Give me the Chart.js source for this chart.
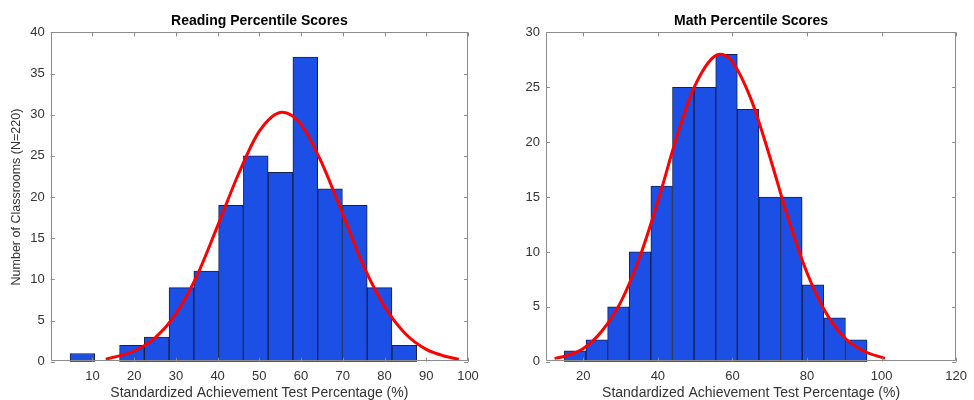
<!DOCTYPE html>
<html>
<head>
<meta charset="utf-8">
<script src="https://cdn.jsdelivr.net/npm/chart.js@4.4.1/dist/chart.umd.min.js"></script>
<style>
  body { margin: 0; background: #fff; }
  .panel { position: absolute; top: 0; width: 487px; height: 400px; }
</style>
</head>
<body>
<div class="panel" style="left:0"><canvas id="readingChart"></canvas></div>
<div class="panel" style="left:487px"><canvas id="mathChart"></canvas></div>
<script>
// Reading histogram (bin centres and counts)
const readingBinCenters = [7.6, 13.53, 19.47, 25.4, 31.33, 37.27, 43.2, 49.14, 55.07, 61.01, 66.94, 72.88, 78.81, 84.74];
const readingCounts = [1, 0, 2, 3, 9, 11, 19, 25, 23, 37, 21, 19, 9, 2];
// red fitted curve
const readingFitX = [13.2, 20, 25, 30, 35, 40, 45, 50, 55.5, 60, 65, 70, 75, 80, 85, 90, 95, 97.8];
const readingFitY = [0.3, 1.3, 2.9, 5.8, 10.4, 16.5, 22.8, 28.0, 30.3, 28.8, 24.1, 17.9, 11.6, 6.7, 3.4, 1.5, 0.6, 0.3];
const readingXTicks = [10, 20, 30, 40, 50, 60, 70, 80, 90, 100];

// Math histogram
const mathBinCenters = [17.82, 23.62, 29.42, 35.22, 41.02, 46.82, 52.61, 58.41, 64.21, 70.01, 75.81, 81.61, 87.41, 93.21];
const mathCounts = [1, 2, 5, 10, 16, 25, 25, 28, 23, 15, 15, 7, 4, 2];
const mathFitX = [12.3, 15, 20, 25, 30, 35, 40, 45, 50, 56.7, 60, 65, 70, 75, 80, 85, 90, 95, 100.9];
const mathFitY = [0.3, 0.5, 1.2, 2.8, 5.4, 9.4, 14.6, 20.4, 25.2, 28.0, 27.3, 23.9, 18.7, 13.0, 8.1, 4.5, 2.2, 1.0, 0.3];
const mathXTicks = [20, 40, 60, 80, 100, 120];

Chart.defaults.font.family = "'Liberation Sans', Arial, sans-serif";

// matlab-like box with inward tick marks
const boxAndTicks = {
  id: 'boxAndTicks',
  afterDatasetsDraw(chart) {
    const { ctx, chartArea: a, scales: { x, y } } = chart;
    const tl = 4;
    ctx.save();
    ctx.strokeStyle = '#8c8c8c';
    ctx.lineWidth = 1;
    ctx.beginPath();
    ctx.rect(Math.round(a.left) + 0.5, Math.round(a.top) + 0.5, Math.round(a.right - a.left) - 1, Math.round(a.bottom - a.top) - 1);
    x.ticks.forEach(t => {
      const px = Math.round(x.getPixelForValue(t.value)) + 0.5;
      ctx.moveTo(px, a.bottom); ctx.lineTo(px, a.bottom - tl);
      ctx.moveTo(px, a.top); ctx.lineTo(px, a.top + tl);
    });
    y.ticks.forEach(t => {
      const py = Math.round(y.getPixelForValue(t.value)) + 0.5;
      ctx.moveTo(a.left, py); ctx.lineTo(a.left + tl, py);
      ctx.moveTo(a.right, py); ctx.lineTo(a.right - tl, py);
    });
    ctx.stroke();
    ctx.restore();
  }
};

function histChart(id, o) {
  new Chart(document.getElementById(id), {
    type: 'bar',
    data: {
      datasets: [
        {
          type: 'line',
          data: o.fitX.map((v, i) => ({ x: v, y: o.fitY[i] })),
          borderColor: '#ff0000',
          borderWidth: 3,
          pointRadius: 0,
          cubicInterpolationMode: 'monotone',
          order: 0
        },
        {
          data: o.centers.map((v, i) => ({ x: v, y: o.counts[i] })),
          backgroundColor: '#1c4fe6',
          borderColor: '#14214f',
          borderWidth: 1,
          borderSkipped: false,
          barPercentage: 1,
          categoryPercentage: 1,
          order: 1
        }
      ]
    },
    options: {
      responsive: true,
      maintainAspectRatio: false,
      animation: false,
      layout: { padding: { left: 0, right: o.padRight, top: 0, bottom: 0 } },
      plugins: {
        legend: { display: false },
        tooltip: { enabled: false },
        title: {
          display: true,
          text: o.title,
          fullSize: false,
          color: '#000',
          font: { size: 14, weight: 'bold', lineHeight: 1.2 },
          padding: { top: 12.6, bottom: 3 }
        }
      },
      scales: {
        x: {
          type: 'linear',
          offset: false,
          min: o.xMin,
          max: o.xMax,
          grid: { display: false, drawTicks: false, offset: false },
          border: { display: false },
          afterBuildTicks: s => { s.ticks = o.xTicks.map(v => ({ value: v })); },
          afterFit: s => { s.height = 38.3; },
          ticks: { color: '#333', font: { size: 13 }, padding: 7, maxRotation: 0 },
          title: {
            display: true,
            text: 'Standardized Achievement Test Percentage (%)',
            color: '#333',
            font: { size: 14, lineHeight: 1 },
            padding: { top: 0, bottom: 0 }
          }
        },
        y: {
          min: 0,
          max: o.yMax,
          grid: { display: false, drawTicks: false },
          border: { display: false },
          afterFit: s => { s.width = o.yWidth; },
          ticks: { stepSize: 5, color: '#333', font: { size: 13 }, padding: 6 },
          title: {
            display: o.yTitle !== '',
            text: o.yTitle,
            color: '#333',
            font: { size: 12.5, lineHeight: 1 },
            padding: { top: 10.5, bottom: 0 }
          }
        }
      }
    },
    plugins: [boxAndTicks]
  });
}

histChart('readingChart', {
  title: 'Reading Percentile Scores',
  centers: readingBinCenters, counts: readingCounts,
  fitX: readingFitX, fitY: readingFitY,
  xMin: 0, xMax: 100, xTicks: readingXTicks, yMax: 40,
  yTitle: 'Number of Classrooms (N=220)', yWidth: 50.7, padRight: 19
});

histChart('mathChart', {
  title: 'Math Percentile Scores',
  centers: mathBinCenters, counts: mathCounts,
  fitX: mathFitX, fitY: mathFitY,
  xMin: 10, xMax: 120, xTicks: mathXTicks, yMax: 30,
  yTitle: '', yWidth: 59, padRight: 9.7
});
</script>
</body>
</html>
